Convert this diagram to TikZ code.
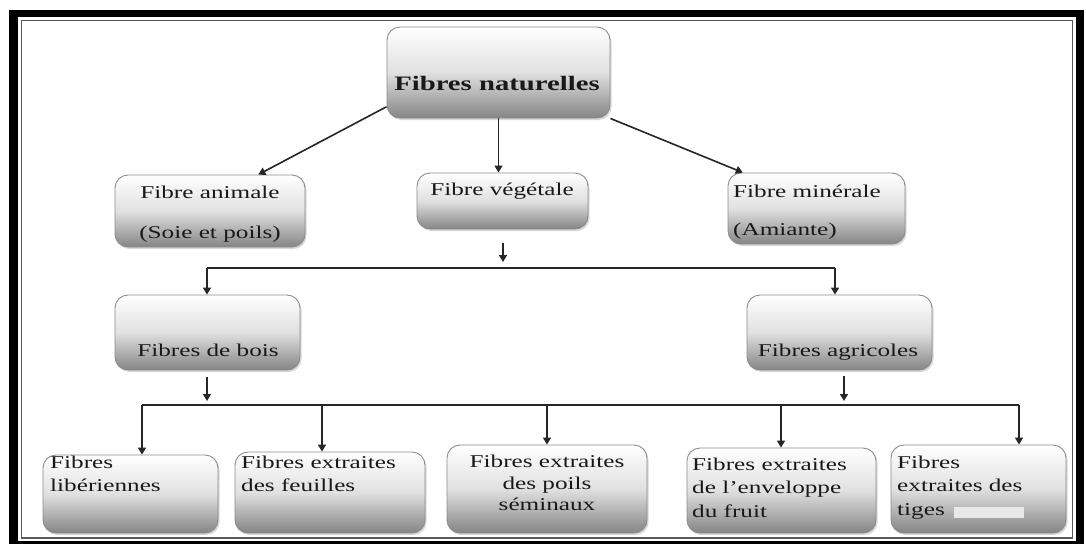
\documentclass[tikz,border=0pt]{standalone}
\usepackage{fontspec}
\setmainfont[FakeStretch=1.4]{Liberation Serif}
\usetikzlibrary{arrows.meta,shadows,calc}
\newcommand\boxnode[5]{\node[box, minimum width={(#4)-(#2)}, minimum height={(#5)-(#3)}] (#1) at ({((#2)+(#4))/2},{((#3)+(#5))/2}) {};}
\begin{document}
\begin{tikzpicture}[x=1pt,y=-1pt,
  box/.style={draw=black!45, line width=0.9pt, rounded corners=13pt,
    top color=white, bottom color=black!48, middle color=black!12,
    drop shadow={shadow xshift=1.5pt,shadow yshift=-2pt,opacity=0.3}, inner sep=0pt},
  txt/.style={inner sep=0pt, font=\fontsize{18}{23.5}\selectfont, text=black!90},
  con/.style={draw=black!85, line width=1.6pt},
  arr/.style={con, -{Triangle[length=7pt,width=8pt]}}
]
\useasboundingbox (0,0) rectangle (1086,544);
% frame
\fill[black] (9,10) rectangle (1084,544);
\fill[white] (18,17) rectangle (1076,541);
\draw[black!65, line width=1.2pt] (21.5,20.5) rectangle (1072.5,538);

% boxes
\boxnode{nat}{387}{27}{610}{118}
\boxnode{ani}{115}{175}{305}{247}
\boxnode{veg}{417}{173}{588}{229}
\boxnode{min}{728}{173}{905}{244}
\boxnode{bois}{115}{295}{300}{370}
\boxnode{agr}{747}{295}{932}{370}
\boxnode{b1}{43}{455}{218}{533}
\boxnode{b2}{235}{452}{425}{533}
\boxnode{b3}{447}{445}{647}{533}
\boxnode{b4}{687}{448}{876}{533}
\boxnode{b5}{891}{445}{1066}{533}

% texts
\node[txt, font=\fontsize{20.5}{24}\selectfont\bfseries, anchor=base] (tnat) at (497,90) {Fibres naturelles};
\node[txt, anchor=base] (tani1) at (210,198) {Fibre animale};
\node[txt, anchor=base] (tani2) at (210,238) {(Soie et poils)};
\node[txt, anchor=base] (tveg) at (502,195) {Fibre végétale};
\node[txt, anchor=base west] (tmin1) at (733,197) {Fibre minérale};
\node[txt, anchor=base west] (tmin2) at (733,235) {(Amiante)};
\node[txt, anchor=base] (tbois) at (208,356) {Fibres de bois};
\node[txt, anchor=base] (tagr) at (838,356) {Fibres agricoles};
\node[txt, align=left, anchor=north west] (tb1) at (50,455.5) {Fibres\\libériennes};
\node[txt, align=left, anchor=north west] (tb2) at (241,455.5) {Fibres extraites\\des feuilles};
\node[txt, align=center, anchor=north, font=\fontsize{18}{21.5}\selectfont] (tb3) at (547,455) {Fibres extraites\\des poils\\séminaux};
\node[txt, align=left, anchor=north west] (tb4) at (692,457.5) {Fibres extraites\\de l’enveloppe\\du fruit};
\node[txt, align=left, anchor=north west] (tb5) at (897,455.5) {Fibres\\extraites des\\tiges};
\fill[black!9] (954,507) rectangle (1024,518);

% coordinates
\coordinate (v1) at (503,243);
\coordinate (v2) at (503,262);
\coordinate (hb) at (207,268);
\coordinate (ha) at (835,268);
\coordinate (bo1) at (207,377);
\coordinate (bo2) at (207,401);
\coordinate (ao1) at (844,376);
\coordinate (ao2) at (844,401);
\coordinate (t1) at (142,405);
\coordinate (t2) at (322,405);
\coordinate (t3) at (547,405);
\coordinate (t4) at (781,405);
\coordinate (t5) at (1019,405);

% connectors
\draw[arr] (nat.197) -- (ani.37);
\draw[arr] (nat.south) -- (nat.south |- veg.north);
\draw[arr] (nat.south east) -- (min.154);
\draw[arr] (v1) -- (v2);
\draw[con] (hb) -- (ha);
\draw[arr] (hb) -- (hb |- bois.north);
\draw[arr] (ha) -- (ha |- agr.north);
\draw[arr] (bo1) -- (bo2);
\draw[arr] (ao1) -- (ao2);
\draw[con] (t1) -- (t5);
\draw[arr] (t1) -- (t1 |- b1.north);
\draw[arr] (t2) -- (t2 |- b2.north);
\draw[arr] (t3) -- (t3 |- b3.north);
\draw[arr] (t4) -- (t4 |- b4.north);
\draw[arr] (t5) -- (t5 |- b5.north);
\end{tikzpicture}
\end{document}
